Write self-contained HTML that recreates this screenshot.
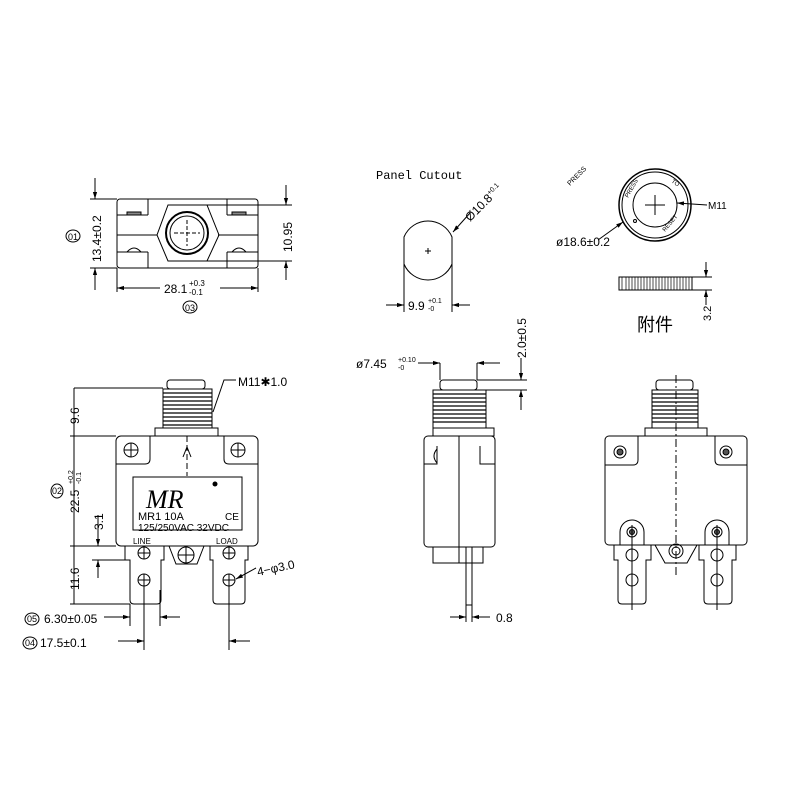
<!DOCTYPE html>
<html><head><meta charset="utf-8"><style>html,body{margin:0;padding:0;background:#fff}svg{display:block}</style></head><body>
<svg width="800" height="800" viewBox="0 0 800 800" xmlns="http://www.w3.org/2000/svg" font-family="Liberation Sans, sans-serif" fill="none" stroke="#000" stroke-width="1">
<defs><marker id="a" viewBox="0 0 10 10" refX="10" refY="5" markerWidth="7" markerHeight="7" orient="auto-start-reverse"><path d="M0,2 L10,5 L0,8z" fill="#000" stroke="none"/></marker></defs>

<!-- top-left view -->
<rect x="117" y="199" width="141" height="69" rx="3"/>
<line x1="117" y1="215" x2="148" y2="215"/><line x1="148" y1="199" x2="148" y2="215"/>
<line x1="117" y1="252" x2="148" y2="252"/><line x1="148" y1="252" x2="148" y2="268"/>
<line x1="227" y1="215" x2="258" y2="215"/><line x1="227" y1="199" x2="227" y2="215"/>
<line x1="227" y1="252" x2="258" y2="252"/><line x1="227" y1="252" x2="227" y2="268"/>
<line x1="117" y1="235" x2="157" y2="235"/><line x1="218" y1="235" x2="258" y2="235"/>
<rect x="127" y="212" width="14" height="3" fill="#888"/><rect x="232" y="212" width="14" height="3" fill="#888"/>
<path d="M127,252 q7,-8 14,0 M232,252 q7,-8 14,0"/>
<polygon points="168,205 207,205 219,235 207,261 168,261 157,235"/>
<circle cx="187" cy="233" r="21" stroke-width="2"/><circle cx="187" cy="233" r="17"/>
<path d="M187,220 V246 M174,233 H200" stroke-dasharray="4,2"/>
<path d="M90,199 H117 M90,268 H117 M207,205 H292 M207,261 H292"/>
<line x1="95" y1="178" x2="95" y2="199" marker-end="url(#a)"/><line x1="95" y1="290" x2="95" y2="268" marker-end="url(#a)"/>
<line x1="286" y1="185" x2="286" y2="205" marker-end="url(#a)"/><line x1="286" y1="280" x2="286" y2="261" marker-end="url(#a)"/>
<path d="M117,268 V292 M258,268 V292"/>
<line x1="160" y1="288" x2="117" y2="288" marker-end="url(#a)"/><line x1="220" y1="288" x2="258" y2="288" marker-end="url(#a)"/>
<g fill="#000" stroke="none" font-size="12">
<text transform="translate(101,262) rotate(-90)">13.4±0.2</text>
<text transform="translate(292,252) rotate(-90)">10.95</text>
<text x="164" y="293">28.1</text><text x="189" y="286" font-size="8">+0.3</text><text x="189" y="295" font-size="8">-0.1</text>
<text x="68" y="240" font-size="9">01</text><text x="185" y="311" font-size="9">03</text>
</g>
<ellipse cx="73" cy="236" rx="7" ry="6"/><ellipse cx="190" cy="307" rx="7" ry="6"/>

<!-- panel cutout -->
<text x="376" y="179" font-family="Liberation Mono, monospace" font-size="12" fill="#000" stroke="none">Panel Cutout</text>
<path d="M404,237 A26,26 0 0 1 452,237 V264 A26,26 0 0 1 404,264 Z"/>
<path d="M425,251 h6 M428,248 v6"/>
<path d="M404,264 V312 M452,264 V312"/>
<line x1="470" y1="213" x2="453" y2="232" marker-end="url(#a)"/>
<line x1="386" y1="305" x2="404" y2="305" marker-end="url(#a)"/><line x1="470" y1="305" x2="452" y2="305" marker-end="url(#a)"/>
<g fill="#000" stroke="none">
<text transform="translate(470,222) rotate(-45)" font-size="12">Ø10.8<tspan font-size="7" dy="-5">+0.1</tspan></text>
<text x="408" y="310" font-size="12">9.9</text><text x="428" y="303" font-size="7">+0.1</text><text x="428" y="311" font-size="7">-0</text>
</g>

<!-- knob -->
<text transform="translate(570,186) rotate(-45)" font-size="7" fill="#000" stroke="none">PRESS</text>
<circle cx="655" cy="205" r="36" stroke-width="1.5"/><circle cx="655" cy="205" r="33"/><circle cx="655" cy="205" r="22"/>
<path d="M655,195 V215 M645,205 H665"/>
<circle cx="635" cy="221" r="1.5"/>
<g fill="#000" stroke="none" font-size="6">
<text transform="translate(628,198) rotate(-60)">PRESS</text>
<text transform="translate(671,182) rotate(35)">TO</text>
<text transform="translate(665,232) rotate(-50)">RESET</text>
<text x="708" y="209" font-size="10">M11</text>
<text x="556" y="246" font-size="12">ø18.6±0.2</text>
</g>
<line x1="707" y1="205" x2="677" y2="203" marker-end="url(#a)"/>
<line x1="598" y1="240" x2="623" y2="222" marker-end="url(#a)"/>
<rect x="619" y="277" width="73" height="13"/>
<path d="M622,277 v13 M626,277 v13 M629,277 v13 M632,277 v13 M635,277 v13 M638,277 v13 M641,277 v13 M644,277 v13 M647,277 v13 M650,277 v13 M653,277 v13 M656,277 v13 M659,277 v13 M662,277 v13 M665,277 v13 M668,277 v13 M671,277 v13 M674,277 v13 M677,277 v13 M680,277 v13 M683,277 v13 M686,277 v13 M689,277 v13" stroke-width="0.7"/>
<path d="M692,277 H712 M692,290 H712"/>
<line x1="706" y1="262" x2="706" y2="277" marker-end="url(#a)"/><line x1="706" y1="305" x2="706" y2="290" marker-end="url(#a)"/>
<text transform="translate(711,321) rotate(-90)" font-size="11" fill="#000" stroke="none">3.2</text>
<text x="637" y="331" font-size="18" font-family="Liberation Sans, Noto Sans CJK SC, sans-serif" fill="#000" stroke="none">附件</text>

<!-- front view -->
<rect x="167" y="380" width="38" height="9" rx="3"/>
<rect x="163" y="389" width="49" height="39"/>
<path d="M163,393 H212 M163,397 H212 M163,401 H212 M163,405 H212 M163,409 H212 M163,413 H212 M163,417 H212 M163,421 H212 M163,425 H212" stroke-width="1.3"/>
<rect x="155" y="428" width="63" height="8"/>
<rect x="116" y="436" width="142" height="110" rx="5"/>
<path d="M116,464 H145 Q150,464 150,459 V436 M258,464 H229 Q224,464 224,459 V436"/>
<circle cx="131" cy="450" r="7"/><path d="M131,443 v14 M124,450 h14"/>
<circle cx="238" cy="450" r="7"/><path d="M238,443 v14 M231,450 h14"/>
<path d="M187,436 V476" stroke-dasharray="6,3"/><path d="M183,457 l4,-10 l4,10"/>
<rect x="133" y="477" width="109" height="53"/>
<g fill="#000" stroke="none">
<text x="146" y="508" font-size="26" font-family="Liberation Serif, serif" font-style="italic">MR</text>
<circle cx="215" cy="484" r="2.5"/>
<text x="138" y="520" font-size="11">MR1  10A</text>
<text x="225" y="520" font-size="10">CE</text>
<text x="138" y="531" font-size="10">125/250VAC  32VDC</text>
<text x="133" y="544" font-size="8">LINE</text>
<text x="216" y="544" font-size="8">LOAD</text>
</g>
<path d="M125,546 V560 H130 V600 Q130,604 134,604 H157 Q161,604 161,600 V560 H164 V546"/>
<path d="M210,546 V560 H213 V600 Q213,604 217,604 H241 Q245,604 245,600 V560 H248 V546"/>
<path d="M169,546 L176,564 H197 L204,546"/>
<circle cx="186" cy="555" r="8"/><path d="M186,547 v16 M178,555 h16"/>
<circle cx="144" cy="553" r="6"/><path d="M144,547 v12 M138,553 h12"/>
<circle cx="144" cy="580" r="6"/><path d="M144,574 v12 M138,580 h12"/>
<circle cx="229" cy="553" r="6"/><path d="M229,547 v12 M223,553 h12"/>
<circle cx="229" cy="580" r="6"/><path d="M229,574 v12 M223,580 h12"/>
<path d="M74,388 H163 M70,436 H116 M70,546 H116 M70,604 H130 M92,560 H130"/>
<path d="M74,388 V604"/>
<path d="M98,515 V546 M98,560 V578"/>
<line x1="98" y1="530" x2="98" y2="546" marker-end="url(#a)"/>
<line x1="98" y1="578" x2="98" y2="560" marker-end="url(#a)"/>
<g fill="#000" stroke="none" font-size="12">
<text transform="translate(79,424) rotate(-90)">9.6</text>
<text transform="translate(79,513) rotate(-90)">22.5</text>
<text transform="translate(73,484) rotate(-90)" font-size="7">+0.2</text>
<text transform="translate(81,484) rotate(-90)" font-size="7">-0.1</text>
<text transform="translate(103,530) rotate(-90)">3.1</text>
<text transform="translate(79,590) rotate(-90)">11.6</text>
<text x="52" y="494" font-size="9">02</text>
<text x="238" y="386">M11✱1.0</text>
<text transform="translate(258,576) rotate(-12)">4−φ3.0</text>
<text x="27" y="622" font-size="9">05</text>
<text x="44" y="623">6.30±0.05</text>
<text x="25" y="646" font-size="9">04</text>
<text x="40" y="647">17.5±0.1</text>
</g>
<ellipse cx="57" cy="491" rx="6" ry="7"/><ellipse cx="32" cy="619" rx="7" ry="6"/><ellipse cx="30" cy="643" rx="7" ry="6"/>
<path d="M213,412 L224,380 H236"/>
<line x1="256" y1="568" x2="236" y2="579" marker-end="url(#a)"/>
<path d="M130,604 V626 M160,590 V626 M144,586 V650 M229,586 V650"/>
<line x1="104" y1="617" x2="130" y2="617" marker-end="url(#a)"/><line x1="180" y1="617" x2="160" y2="617" marker-end="url(#a)"/>
<line x1="118" y1="641" x2="144" y2="641" marker-end="url(#a)"/><line x1="250" y1="641" x2="229" y2="641" marker-end="url(#a)"/>

<!-- side view -->
<rect x="440" y="380" width="37" height="10" rx="3"/>
<rect x="433" y="390" width="53" height="38"/>
<path d="M433,394 H486 M433,398 H486 M433,402 H486 M433,406 H486 M433,410 H486 M433,414 H486 M433,418 H486 M433,422 H486" stroke-width="1.3"/>
<rect x="433" y="428" width="61" height="8"/>
<rect x="424" y="436" width="71" height="111" rx="4"/>
<path d="M459,436 V547 M424,464 H437 V446 M495,464 H480 V446 M437,449 q-6,7 0,14"/>
<rect x="433" y="547" width="50" height="16"/>
<path d="M459,547 V563"/>
<rect x="466" y="547" width="6" height="58"/>
<path d="M440,363 V380 M477,363 V380 M477,380 H527 M486,390 H527"/>
<line x1="418" y1="363" x2="440" y2="363" marker-end="url(#a)"/><line x1="500" y1="363" x2="477" y2="363" marker-end="url(#a)"/>
<line x1="521" y1="358" x2="521" y2="380" marker-end="url(#a)"/><line x1="521" y1="410" x2="521" y2="390" marker-end="url(#a)"/>
<path d="M466,605 V622 M472,605 V622"/>
<line x1="450" y1="617" x2="466" y2="617" marker-end="url(#a)"/><line x1="490" y1="617" x2="472" y2="617" marker-end="url(#a)"/>
<g fill="#000" stroke="none" font-size="12">
<text x="356" y="368">ø7.45</text><text x="398" y="362" font-size="7">+0.10</text><text x="398" y="370" font-size="7">-0</text>
<text transform="translate(526,358) rotate(-90)">2.0±0.5</text>
<text x="496" y="622">0.8</text>
</g>

<!-- right view -->
<rect x="656" y="380" width="37" height="10" rx="3"/>
<rect x="652" y="390" width="46" height="38"/>
<path d="M652,394 H698 M652,398 H698 M652,402 H698 M652,406 H698 M652,410 H698 M652,414 H698 M652,418 H698 M652,422 H698" stroke-width="1.2"/>
<rect x="645" y="428" width="62" height="8"/>
<rect x="605" y="436" width="142" height="109" rx="4"/>
<path d="M605,465 H633 Q638,465 638,460 V436 M747,465 H720 Q715,465 715,460 V436"/>
<circle cx="620" cy="452" r="6"/><circle cx="620" cy="452" r="3" fill="#555"/>
<circle cx="726" cy="452" r="6"/><circle cx="726" cy="452" r="3" fill="#555"/>
<path d="M620,532 A12,12 0 0 1 644,532 V545 M620,532 V545 M705,532 A12,12 0 0 1 729,532 V545 M705,532 V545"/>
<circle cx="632" cy="532" r="5"/><circle cx="632" cy="532" r="2.5" fill="#555"/>
<circle cx="717" cy="532" r="5"/><circle cx="717" cy="532" r="2.5" fill="#555"/>
<path d="M614,545 V560 H618 V600 Q618,604 622,604 H642 Q646,604 646,600 V560 H651 V545"/>
<path d="M699,545 V560 H704 V600 Q704,604 708,604 H728 Q732,604 732,600 V560 H736 V545"/>
<path d="M655,545 L665,563 H687 L697,545"/>
<circle cx="676" cy="551" r="7"/><circle cx="676" cy="551" r="4"/>
<circle cx="632" cy="555" r="6"/><circle cx="632" cy="580" r="6"/><circle cx="717" cy="555" r="6"/><circle cx="717" cy="580" r="6"/>
<path d="M632,525 V610 M717,525 V610"/>
<path d="M676,375 V575" stroke-dasharray="8,3,2,3"/>
</svg>
</body></html>
